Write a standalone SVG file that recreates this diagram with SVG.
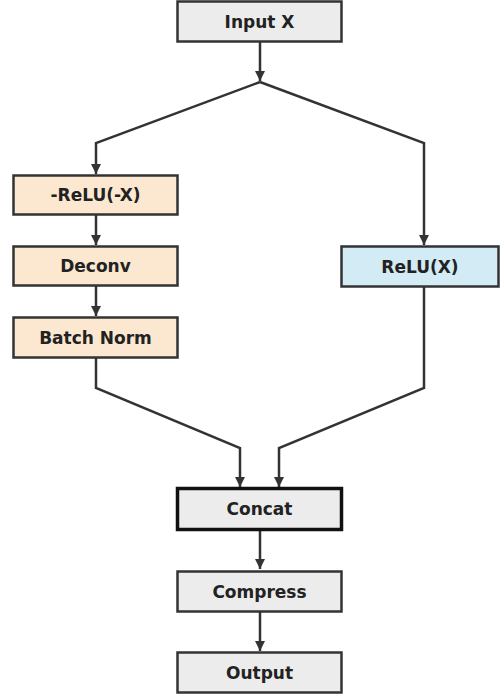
<svg xmlns="http://www.w3.org/2000/svg" width="500" height="694" viewBox="0 0 500 694">
<style>
.box{stroke:#333;stroke-width:2.5}
.g{fill:#ececec}
.o{fill:#fce8d0}
.b{fill:#d2ebf5}
.lbl{font-family:"DejaVu Sans",sans-serif;font-weight:bold;font-size:17px;fill:#222;text-anchor:middle;dominant-baseline:central}
.c{fill:none;stroke:#333;stroke-width:2.5;marker-end:url(#ah)}
</style>
<defs>
<marker id="ah" viewBox="0 0 10 10" refX="10" refY="5" markerWidth="4" markerHeight="4" markerUnits="strokeWidth" orient="auto">
<path d="M0,0 L10,5 L0,10 z" fill="#333"/>
</marker>
</defs>
<g id="connectors">
<path class="c" d="M260,42 V81"/>
<path class="c" d="M260,82 L96,143 V174"/>
<path class="c" d="M260,82 L424,143 V245"/>
<path class="c" d="M96,215 V245"/>
<path class="c" d="M96,286 V316"/>
<path class="c" d="M96,358 V388 L240,448 V487"/>
<path class="c" d="M424,287 V388 L279,448 V487"/>
<path class="c" d="M260,530 V569"/>
<path class="c" d="M260,612 V651"/>
</g>
<g id="input"><rect class="box g" x="177.5" y="1.5" width="164" height="40"/><text class="lbl" x="259.5" y="21.5">Input X</text></g>
<g id="negrelu"><rect class="box o" x="13.5" y="175.5" width="164" height="39"/><text class="lbl" x="95.5" y="195">-ReLU(-X)</text></g>
<g id="deconv"><rect class="box o" x="13.5" y="246.5" width="164" height="39"/><text class="lbl" x="95.5" y="266">Deconv</text></g>
<g id="batchnorm"><rect class="box o" x="13.5" y="317.5" width="164" height="40"/><text class="lbl" x="95.5" y="337.5">Batch Norm</text></g>
<g id="relu"><rect class="box b" x="341.5" y="246.5" width="157" height="40"/><text class="lbl" x="420" y="266.5">ReLU(X)</text></g>
<g id="concat"><rect class="g" x="177.5" y="488.5" width="164" height="41" stroke="#111" stroke-width="3.5"/><text class="lbl" x="259.5" y="509">Concat</text></g>
<g id="compress"><rect class="box g" x="177.5" y="571.5" width="164" height="40"/><text class="lbl" x="259.5" y="591.5">Compress</text></g>
<g id="output"><rect class="box g" x="177.5" y="652.5" width="164" height="40"/><text class="lbl" x="259.5" y="672.5">Output</text></g>
</svg>
